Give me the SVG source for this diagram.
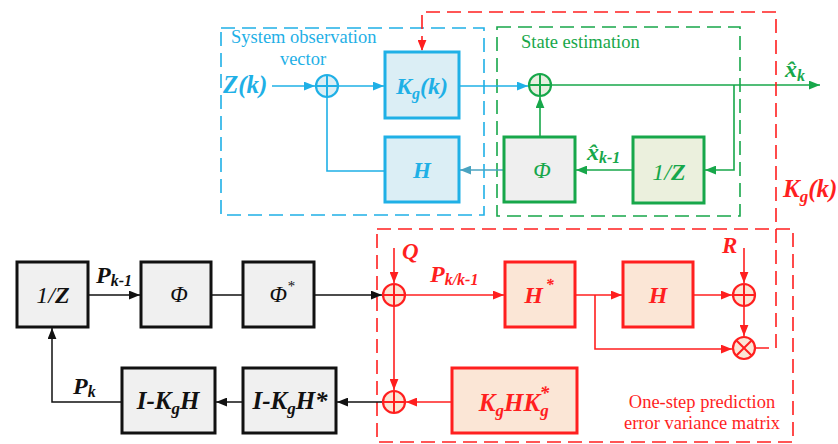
<svg xmlns="http://www.w3.org/2000/svg" width="838" height="444" viewBox="0 0 838 444">
<style>
.m{font-family:'Liberation Serif','Times New Roman',serif;font-weight:bold;font-style:italic}
.t{font-family:'Liberation Serif','Times New Roman',serif}
.bl{stroke:#1fb0e6;fill:none;stroke-width:1.6}
.gr{stroke:#17a74a;fill:none;stroke-width:1.6}
.rd{stroke:#ff1f1f;fill:none;stroke-width:1.6}
.bk{stroke:#111;fill:none;stroke-width:1.5}
.bbox{fill:#dbeef5;stroke:#1fb0e6;stroke-width:3}
.gbox{stroke:#17a74a;stroke-width:3}
.rbox{fill:#fbe6d6;stroke:#ff1f1f;stroke-width:3}
.kbox{fill:#f0f0f0;stroke:#111;stroke-width:3}
.dash{stroke-dasharray:14 7;fill:none;stroke-width:1.6}
</style>
<defs>
<marker id="ab" viewBox="0 0 10 8" refX="10" refY="4" markerWidth="11" markerHeight="9" markerUnits="userSpaceOnUse" orient="auto"><path d="M0,0L10,4L0,8z" fill="#1fb0e6"/></marker>
<marker id="as" viewBox="0 0 10 8" refX="10" refY="4" markerWidth="11" markerHeight="9" markerUnits="userSpaceOnUse" orient="auto"><path d="M0,0L10,4L0,8z" fill="#4aa3c0"/></marker>
<marker id="ag" viewBox="0 0 10 8" refX="10" refY="4" markerWidth="11" markerHeight="9" markerUnits="userSpaceOnUse" orient="auto"><path d="M0,0L10,4L0,8z" fill="#17a74a"/></marker>
<marker id="ar" viewBox="0 0 10 8" refX="10" refY="4" markerWidth="11" markerHeight="9" markerUnits="userSpaceOnUse" orient="auto"><path d="M0,0L10,4L0,8z" fill="#ff1f1f"/></marker>
<marker id="ak" viewBox="0 0 10 8" refX="10" refY="4" markerWidth="11" markerHeight="9" markerUnits="userSpaceOnUse" orient="auto"><path d="M0,0L10,4L0,8z" fill="#111"/></marker>
</defs>
<rect width="838" height="444" fill="#fff"/>

<g id="frames">
<rect x="221" y="28" width="263" height="187" class="dash" stroke="#1fb0e6"/>
<rect x="497" y="27" width="243" height="189" class="dash" stroke="#17a74a"/>
<rect x="377" y="229" width="416" height="213" class="dash" stroke="#ff1f1f"/>
<text x="231" y="43" class="t" font-size="18.5" fill="#1fb0e6">System observation</text>
<text x="303" y="65" class="t" font-size="18.5" fill="#1fb0e6" text-anchor="middle">vector</text>
<text x="521" y="48" class="t" font-size="18.5" fill="#17a74a">State estimation</text>
<text x="702" y="408" class="t" font-size="18.5" fill="#ff1f1f" text-anchor="middle">One-step prediction</text>
<text x="702" y="429" class="t" font-size="18.5" fill="#ff1f1f" text-anchor="middle">error variance matrix</text>
</g>

<g id="connectors">
<path d="M272,86H315" class="bl" marker-end="url(#ab)"/>
<path d="M338,86H384" class="bl" marker-end="url(#ab)"/>
<path d="M460,86H528" class="bl" marker-end="url(#ab)"/>
<path d="M327,97V171H385" class="bl"/>
<path d="M503,170H460" stroke="#4aa3c0" stroke-width="1.6" fill="none" marker-end="url(#as)"/>
<path d="M551,85H820" class="gr" marker-end="url(#ag)"/>
<path d="M734,85V170H705" class="gr" marker-end="url(#ag)"/>
<path d="M632,170H576" class="gr" marker-end="url(#ag)"/>
<path d="M540,136V97" class="gr" marker-end="url(#ag)"/>
<path d="M755,348H776V12H422V51" stroke="#ff1f1f" class="dash" marker-end="url(#ar)"/>
<path d="M88,295H140" class="bk" marker-end="url(#ak)"/>
<path d="M211,295H243" class="bk"/>
<path d="M314,295H382" class="bk" marker-end="url(#ak)"/>
<path d="M383,402H337" class="bk" marker-end="url(#ak)"/>
<path d="M243,402H216" class="bk" marker-end="url(#ak)"/>
<path d="M122,402H52V328" class="bk" marker-end="url(#ak)"/>
<path d="M394,248V283" class="rd" marker-end="url(#ar)"/>
<path d="M405,295H504" class="rd" marker-end="url(#ar)"/>
<path d="M576,295H622" class="rd" marker-end="url(#ar)"/>
<path d="M595,295V349H732" class="rd" marker-end="url(#ar)"/>
<path d="M694,295H732" class="rd" marker-end="url(#ar)"/>
<path d="M744,248V283" class="rd" marker-end="url(#ar)"/>
<path d="M744,306V336" class="rd" marker-end="url(#ar)"/>
<path d="M394,306V390" class="rd" marker-end="url(#ar)"/>
<path d="M451,402H406" class="rd" marker-end="url(#ar)"/>
</g>

<g id="labels">
<text x="223" y="93" class="m" font-size="25" fill="#1fb0e6">Z(k)</text>
<text x="785" y="77" class="m" font-size="24" fill="#17a74a">x&#x302;<tspan font-size="16" dy="4">k</tspan></text>
<text x="587" y="160" class="m" font-size="24" fill="#17a74a">x&#x302;<tspan font-size="16" dy="3">k-1</tspan></text>
<text x="783" y="197" class="m" font-size="25" fill="#ff1f1f">K<tspan font-size="17" dy="5">g</tspan><tspan dy="-5">(k)</tspan></text>
<text x="96" y="283" class="m" font-size="24" fill="#111">P<tspan font-size="16" dy="3">k-1</tspan></text>
<text x="73" y="394" class="m" font-size="24" fill="#111">P<tspan font-size="16" dy="3">k</tspan></text>
<text x="402" y="259" class="m" font-size="23" fill="#ff1f1f">Q</text>
<text x="430" y="282" class="m" font-size="24" fill="#ff1f1f">P<tspan font-size="16" dy="3">k/k-1</tspan></text>
<text x="722" y="253" class="m" font-size="23" fill="#ff1f1f">R</text>
</g>

<g id="sumZ"><circle cx="327" cy="86" r="11" fill="#dbeef5" stroke="#1fb0e6" stroke-width="2.2"/><path d="M316,86H338M327,75V97" stroke="#1fb0e6" stroke-width="2"/></g>
<g id="Kg"><rect x="385" y="52" width="74" height="66" class="bbox"/><text x="422" y="94" class="m" font-size="24" fill="#1fb0e6" text-anchor="middle">K<tspan font-size="16" dy="5">g</tspan><tspan dy="-5">(k)</tspan></text></g>
<g id="Hobs"><rect x="385" y="137" width="74" height="65" class="bbox"/><text x="422" y="178" class="m" font-size="23" fill="#1fb0e6" text-anchor="middle">H</text></g>

<g id="sumX"><circle cx="540" cy="85" r="11" fill="#e8efe0" stroke="#17a74a" stroke-width="2.2"/><path d="M529,85H551M540,74V96" stroke="#17a74a" stroke-width="2"/></g>
<g id="PhiG"><rect x="504" y="137" width="71" height="65" fill="#efefef" class="gbox"/><text x="542" y="178" class="t" font-style="italic" font-size="23" fill="#17a74a" text-anchor="middle">Φ</text></g>
<g id="invZG"><rect x="633" y="137" width="71" height="66" fill="#ebf0dd" class="gbox"/><text x="669" y="180" class="t" font-size="24" fill="#17a74a" text-anchor="middle"><tspan font-style="italic">1/</tspan><tspan font-weight="bold" font-style="italic">Z</tspan></text></g>

<g id="invZ"><rect x="17" y="262" width="71" height="65" class="kbox"/><text x="53" y="303" class="t" font-size="24" fill="#111" text-anchor="middle"><tspan font-style="italic">1/</tspan><tspan font-weight="bold" font-style="italic">Z</tspan></text></g>
<g id="Phi"><rect x="141" y="262" width="70" height="65" class="kbox"/><text x="179" y="302" class="t" font-style="italic" font-size="23" fill="#111" text-anchor="middle">Φ</text></g>
<g id="PhiStar"><rect x="243" y="262" width="71" height="65" class="kbox"/><text x="282" y="302" class="t" font-style="italic" font-size="23" fill="#111" text-anchor="middle">Φ<tspan font-size="15" dy="-11">*</tspan></text></g>
<g id="IKgH"><rect x="122" y="368" width="93" height="65" class="kbox"/><text x="168" y="409" class="m" font-size="25" fill="#111" text-anchor="middle">I-K<tspan font-size="17" dy="5">g</tspan><tspan dy="-5">H</tspan></text></g>
<g id="IKgHStar"><rect x="243" y="368" width="93" height="65" class="kbox"/><text x="290" y="409" class="m" font-size="25" fill="#111" text-anchor="middle">I-K<tspan font-size="17" dy="5">g</tspan><tspan dy="-5">H*</tspan></text></g>

<g id="sumQ"><circle cx="394" cy="295" r="11" fill="#fbe6d6" stroke="#ff1f1f" stroke-width="2.2"/><path d="M383,295H405M394,284V306" stroke="#ff1f1f" stroke-width="2"/></g>
<g id="sumP"><circle cx="394" cy="402" r="11" fill="#fbe6d6" stroke="#ff1f1f" stroke-width="2.2"/><path d="M383,402H405M394,391V413" stroke="#ff1f1f" stroke-width="2"/></g>
<g id="HStar"><rect x="505" y="262" width="70" height="65" class="rbox"/><text x="539" y="303" class="m" font-size="24" fill="#ff1f1f" text-anchor="middle">H<tspan font-size="16" dy="-13" dx="3">*</tspan></text></g>
<g id="Hred"><rect x="623" y="262" width="70" height="65" class="rbox"/><text x="658" y="303" class="m" font-size="24" fill="#ff1f1f" text-anchor="middle">H</text></g>
<g id="sumR"><circle cx="744" cy="295" r="11" fill="#fbe6d6" stroke="#ff1f1f" stroke-width="2.2"/><path d="M733,295H755M744,284V306" stroke="#ff1f1f" stroke-width="2"/></g>
<g id="mulR"><circle cx="744" cy="348" r="11" fill="#fbe6d6" stroke="#ff1f1f" stroke-width="2.2"/><path d="M736.2,340.2L751.8,355.8M751.8,340.2L736.2,355.8" stroke="#ff1f1f" stroke-width="2"/></g>
<g id="KgHKg"><rect x="452" y="368" width="125" height="65" class="rbox"/><text x="514" y="411" class="m" font-size="25" fill="#ff1f1f" text-anchor="middle">K<tspan font-size="17" dy="5">g</tspan><tspan dy="-5">HK</tspan><tspan font-size="17" dy="5">g</tspan><tspan font-size="19" dx="-9" dy="-17">*</tspan></text></g>
</svg>
